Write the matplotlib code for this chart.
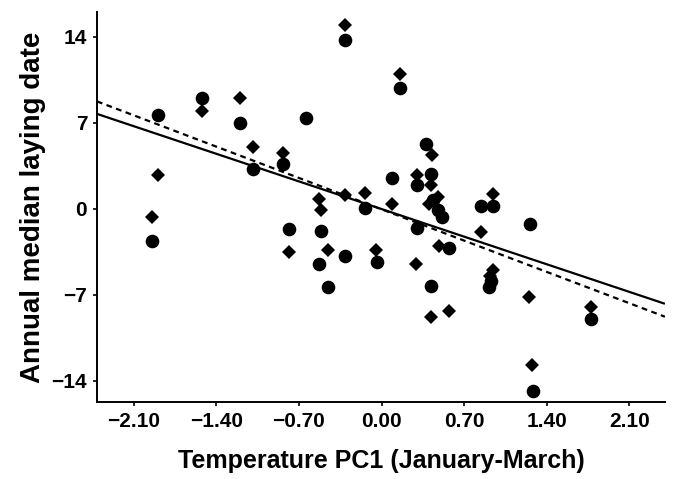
import numpy as np
import matplotlib
matplotlib.use("Agg")
import matplotlib.pyplot as plt

# circles
circle_x = [-1.94, -1.89, -1.52, -1.20, -1.09, -0.83, -0.78, -0.64, -0.53, -0.51,
            -0.45, -0.31, -0.31, -0.14, -0.04, 0.09, 0.155, 0.30, 0.30, 0.38,
            0.42, 0.44, 0.48, 0.51, 0.42, 0.57, 0.84, 0.94, 0.93, 0.91,
            1.26, 1.28, 1.77]
circle_y = [-2.63, 7.59, 9.03, 7.00, 3.25, 3.66, -1.63, 7.35, -4.53, -1.77,
            -6.32, 13.69, -3.83, 0.10, -4.34, 2.52, 9.85, -1.55, 1.90, 5.29,
            2.85, 0.68, -0.14, -0.68, -6.24, -3.17, 0.20, 0.20, -5.9, -6.4,
            -1.22, -14.78, -8.95]

# diamonds
diamond_x = [-1.94, -1.89, -1.52, -1.20, -1.09, -0.83, -0.78, -0.53, -0.51, -0.45,
             -0.31, -0.31, -0.14, -0.045, 0.09, 0.155, 0.29, 0.30, 0.43, 0.42,
             0.40, 0.48, 0.49, 0.415, 0.57, 0.84, 0.94, 0.94, 0.92, 1.25,
             1.275, 1.77]
diamond_y = [-0.63, 2.71, 7.94, 9.03, 5.01, 4.52, -3.53, 0.78, -0.08, -3.39,
             14.91, 1.16, 1.27, -3.39, 0.38, 10.98, -4.45, 2.71, 4.39, 1.90,
             0.41, 0.94, -2.99, -8.8, -8.35, -1.90, 1.19, -5.0, -5.5, -7.14,
             -12.67, -7.95]

# regression lines (slope, intercept)
solid_fit = (-3.21, -0.02)
dashed_fit = (-3.64, -0.04)

x_ticks = [-2.10, -1.40, -0.70, 0.00, 0.70, 1.40, 2.10]
y_ticks = [-14, -7, 0, 7, 14]


def main():
    plt.rcParams["font.family"] = ["Liberation Sans", "DejaVu Sans"]
    plt.rcParams["font.weight"] = "bold"
    fig = plt.figure(figsize=(6.73, 4.79), dpi=100)
    ax = fig.add_axes([0.144, 0.161, 0.844, 0.814])

    xlim = (-2.41, 2.40)
    ax.set_xlim(*xlim)
    ax.set_ylim(-15.7, 16.0)

    xs = np.array(xlim)
    ax.plot(xs, solid_fit[0] * xs + solid_fit[1], color="black", lw=1.6,
            solid_capstyle="butt", zorder=2)
    ax.plot(xs, dashed_fit[0] * xs + dashed_fit[1], color="black", lw=1.6,
            dashes=(2.6, 2.0), zorder=2)

    ax.plot(circle_x, circle_y, "o", color="black", ms=9.8, mew=0, zorder=3)
    ax.plot(diamond_x, diamond_y, "D", color="black", ms=7.4, mew=0, zorder=3)

    ax.set_xticks(x_ticks)
    ax.set_xticklabels([f"{t:.2f}".replace("-", "\u2212") for t in x_ticks])
    ax.set_yticks(y_ticks)
    ax.set_yticklabels([str(t).replace("-", "\u2212") for t in y_ticks])

    for side in ["top", "right"]:
        ax.spines[side].set_visible(False)
    for side in ["left", "bottom"]:
        ax.spines[side].set_linewidth(1.4)
    ax.tick_params(axis="both", length=3, width=1.2, labelsize=15, pad=4)

    ax.set_xlabel("Temperature PC1 (January-March)", fontsize=18,
                  fontweight="bold", labelpad=13)
    ax.set_ylabel("Annual median laying date", fontsize=20,
                  fontweight="bold", labelpad=4)

    fig.savefig("out.png", dpi=100)


if __name__ == "__main__":
    main()
